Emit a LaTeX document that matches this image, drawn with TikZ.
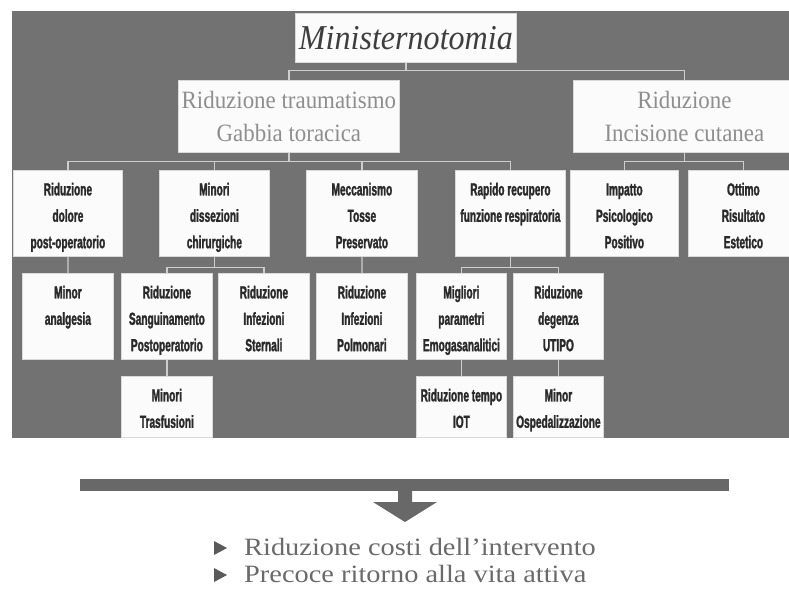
\documentclass[tikz,border=0pt]{standalone}
\usepackage{fontspec}
\setmainfont{Liberation Serif}
\newfontfamily\cond[FakeStretch=0.58,FakeBold=1.6]{Liberation Sans}
\newfontfamily\serifc[FakeStretch=0.92]{Liberation Serif}
\newfontfamily\serifw[FakeStretch=1.14]{Liberation Serif}
\definecolor{bggray}{HTML}{727272}
\definecolor{boxwhite}{HTML}{FBFBFB}
\definecolor{boxedge}{HTML}{DADADA}
\definecolor{conncol}{HTML}{CDCDCD}
\definecolor{titlecol}{HTML}{3E3E3E}
\definecolor{l2col}{HTML}{8E8E8E}
\definecolor{txtdark}{HTML}{2A2A2A}
\definecolor{barcol}{HTML}{686868}
\definecolor{restxt}{HTML}{6A6A6A}
\definecolor{bulletcol}{HTML}{5A5A5A}
\tikzset{
  box/.style={fill=boxwhite, draw=boxedge, line width=0.8bp, inner sep=0pt, anchor=north west},
  conn/.style={draw=conncol, line width=1.3bp},
  restext/.style={anchor=base west, inner sep=0pt, text=restxt, font={\serifw\fontsize{25}{28}\selectfont}},
  bullet/.style={fill=bulletcol},
}
\newcommand\bx[6]{%
  \node[box, minimum width=#4bp, minimum height=#5bp] (#1) at (#2,#3)
    {\parbox[c][#5bp][t]{#4bp}{\centering\cond\bfseries\fontsize{17.5}{26.5}\selectfont\color{txtdark}\rule{0pt}{25bp}#6}};%
}
\begin{document}
\begin{tikzpicture}[x=1bp,y=-1bp]
\clip (0,0) rectangle (789,590);
\fill[white] (0,0) rectangle (789,590);
\fill[bggray] (12,11) rectangle (800,438);

% level 1
\node[box, minimum width=221bp, minimum height=49bp] (title) at (295,13)
  {\serifc\itshape\fontsize{35}{40}\selectfont\color{titlecol}Ministernotomia};
% level 2
\node[box, minimum width=221bp, minimum height=72bp, align=center, text=l2col,
  font={\serifc\fontsize{25}{33}\selectfont}] (l2a) at (178,80)
  {Riduzione traumatismo\\Gabbia toracica};
\node[box, minimum width=222bp, minimum height=72bp, align=center, text=l2col,
  font={\serifc\fontsize{25}{33}\selectfont}] (l2b) at (573,80)
  {Riduzione\\Incisione cutanea};

% level 3
\bx{b1}{13}{170}{109}{86}{Riduzione\\dolore\\post-operatorio}
\bx{b2}{159}{170}{110}{86}{Minori\\dissezioni\\chirurgiche}
\bx{b3}{306}{170}{111}{86}{Meccanismo\\Tosse\\Preservato}
\bx{b4}{455}{170}{110}{86}{Rapido recupero\\funzione respiratoria}
\bx{b5}{570}{170}{108}{86}{Impatto\\Psicologico\\Positivo}
\bx{b6}{688}{170}{110}{86}{Ottimo\\Risultato\\Estetico}
% level 4
\bx{c1}{22}{273}{91}{86}{Minor\\analgesia}
\bx{c2}{121}{273}{91}{86}{Riduzione\\Sanguinamento\\Postoperatorio}
\bx{c3}{218}{273}{91}{86}{Riduzione\\Infezioni\\Sternali}
\bx{c4}{316}{273}{91}{86}{Riduzione\\Infezioni\\Polmonari}
\bx{c5}{416}{273}{90}{86}{Migliori\\parametri\\Emogasanalitici}
\bx{c6}{513}{273}{90}{86}{Riduzione\\degenza\\UTIPO}
% level 5
\bx{d1}{121}{376}{91}{61}{Minori\\Trasfusioni}
\bx{d2}{416}{376}{90}{61}{Riduzione tempo\\IOT}
\bx{d3}{513}{376}{90}{61}{Minor\\Ospedalizzazione}

% connectors
\draw[conn] (title.south) -- ++(0,8) -| (l2a.north);
\draw[conn] (title.south) -- ++(0,8) -| (l2b.north);
\foreach \n in {b1,b2,b3,b4} \draw[conn] (l2a.south) -- ++(0,9) -| (\n.north);
\foreach \n in {b5,b6} \draw[conn] (l2b.south) -- ++(0,9) -| (\n.north);
\draw[conn] (b1.south) -- (c1.north);
\foreach \n in {c2,c3} \draw[conn] (b2.south) -- ++(0,11) -| (\n.north);
\draw[conn] (b3.south) -- (c4.north);
\foreach \n in {c5,c6} \draw[conn] (b4.south) -- ++(0,11) -| (\n.north);
\draw[conn] (c2.south) -- (d1.north);
\draw[conn] (c5.south) -- (d2.north);
\draw[conn] (c6.south) -- (d3.north);

% bottom bar and arrow
\fill[barcol] (80,479) rectangle (729,491);
\fill[barcol] (398,490) -- (398,502) -- (373,502) -- (405,522) -- (437,502) -- (412,502) -- (412,490) -- cycle;

\node[restext] (res1) at (244,555) {Riduzione costi dell’intervento};
\node[restext] (res2) at (244,582) {Precoce ritorno alla vita attiva};
\fill[bullet] (214,541) -- (227,548) -- (214,555) -- cycle;
\fill[bullet] (214,568) -- (227,575) -- (214,582) -- cycle;
\end{tikzpicture}
\end{document}
